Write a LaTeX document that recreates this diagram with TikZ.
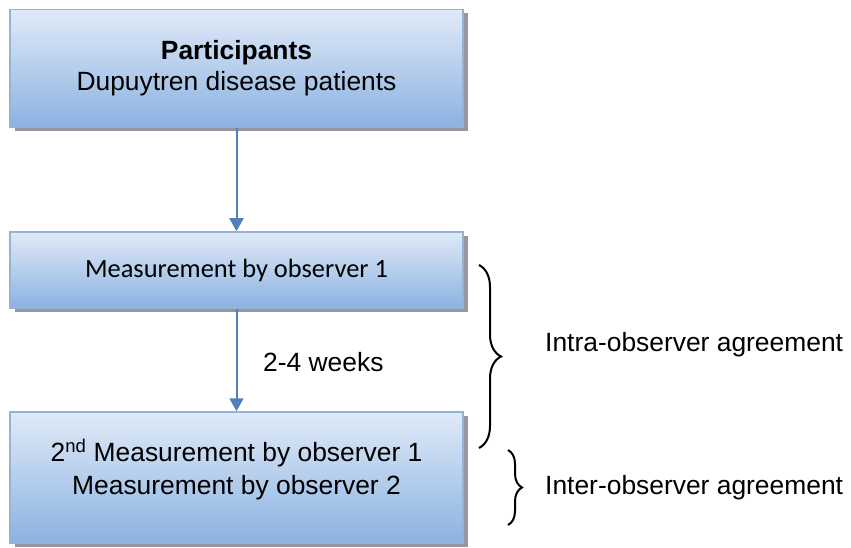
\documentclass[tikz,border=0pt]{standalone}
\usepackage{fontspec}
\setmainfont{Liberation Sans}
\newfontfamily\calibrifont{Carlito}
\usetikzlibrary{arrows.meta,shadows,decorations.pathreplacing}
\definecolor{boxtop}{RGB}{224,234,247}
\definecolor{boxbot}{RGB}{139,178,226}
\definecolor{boxline}{RGB}{149,179,215}
\definecolor{arrowblue}{RGB}{79,129,189}
\definecolor{shadowgray}{RGB}{150,150,160}
\begin{document}
\begin{tikzpicture}[x=1pt,y=-1pt,
  flowbox/.style={draw=boxline, line width=1.5pt, top color=boxtop, bottom color=boxbot,
    minimum width=453pt, inner sep=0pt,
    drop shadow={shadow xshift=5pt, shadow yshift=-4pt, fill=shadowgray, opacity=1}},
  boxtext/.style={font=\fontsize{26.4}{31}\selectfont, align=center, inner sep=0pt},
  flowarrow/.style={draw=arrowblue, line width=2pt, -{Triangle[width=14pt,length=13pt]}},
  bracestyle/.style={draw=black, line width=2pt, decorate}
]
\useasboundingbox (0,0) rectangle (851,548);
\node[flowbox, minimum height=118pt] (b1) at (236.5,68.5) {};
\node[flowbox, minimum height=76pt] (b2) at (236.5,270) {};
\node[flowbox, minimum height=131pt] (b3) at (236.5,477.5) {};
\node[boxtext] (t1) at (236.5,68) {\textbf{Participants}\\Dupuytren disease patients};
\node[boxtext, font=\calibrifont\fontsize{26.4}{31}\selectfont] (t2) at (236.5,270) {Measurement by observer 1};
\node[boxtext] (t3a) at (236.5,453) {2\textsuperscript{nd} Measurement by observer 1};
\node[boxtext] (t3b) at (236.5,488) {Measurement by observer 2};
\draw[flowarrow] (b1.south) -- (b2.north);
\draw[flowarrow] (b2.south) -- (b3.north);
\node[boxtext, anchor=west] (w) at (263,362) {2-4 weeks};
\coordinate (br1a) at (479,265);
\coordinate (br1b) at (479,448);
\coordinate (br2a) at (508,450);
\coordinate (br2b) at (508,525);
\draw[bracestyle, decoration={brace, amplitude=22pt}] (br1a) -- (br1b);
\draw[bracestyle, decoration={brace, amplitude=14pt}] (br2a) -- (br2b);
\node[boxtext, anchor=west] (intra) at (545,345) {Intra-observer agreement};
\node[boxtext, anchor=west] (inter) at (545,488) {Inter-observer agreement};
\end{tikzpicture}
\end{document}
